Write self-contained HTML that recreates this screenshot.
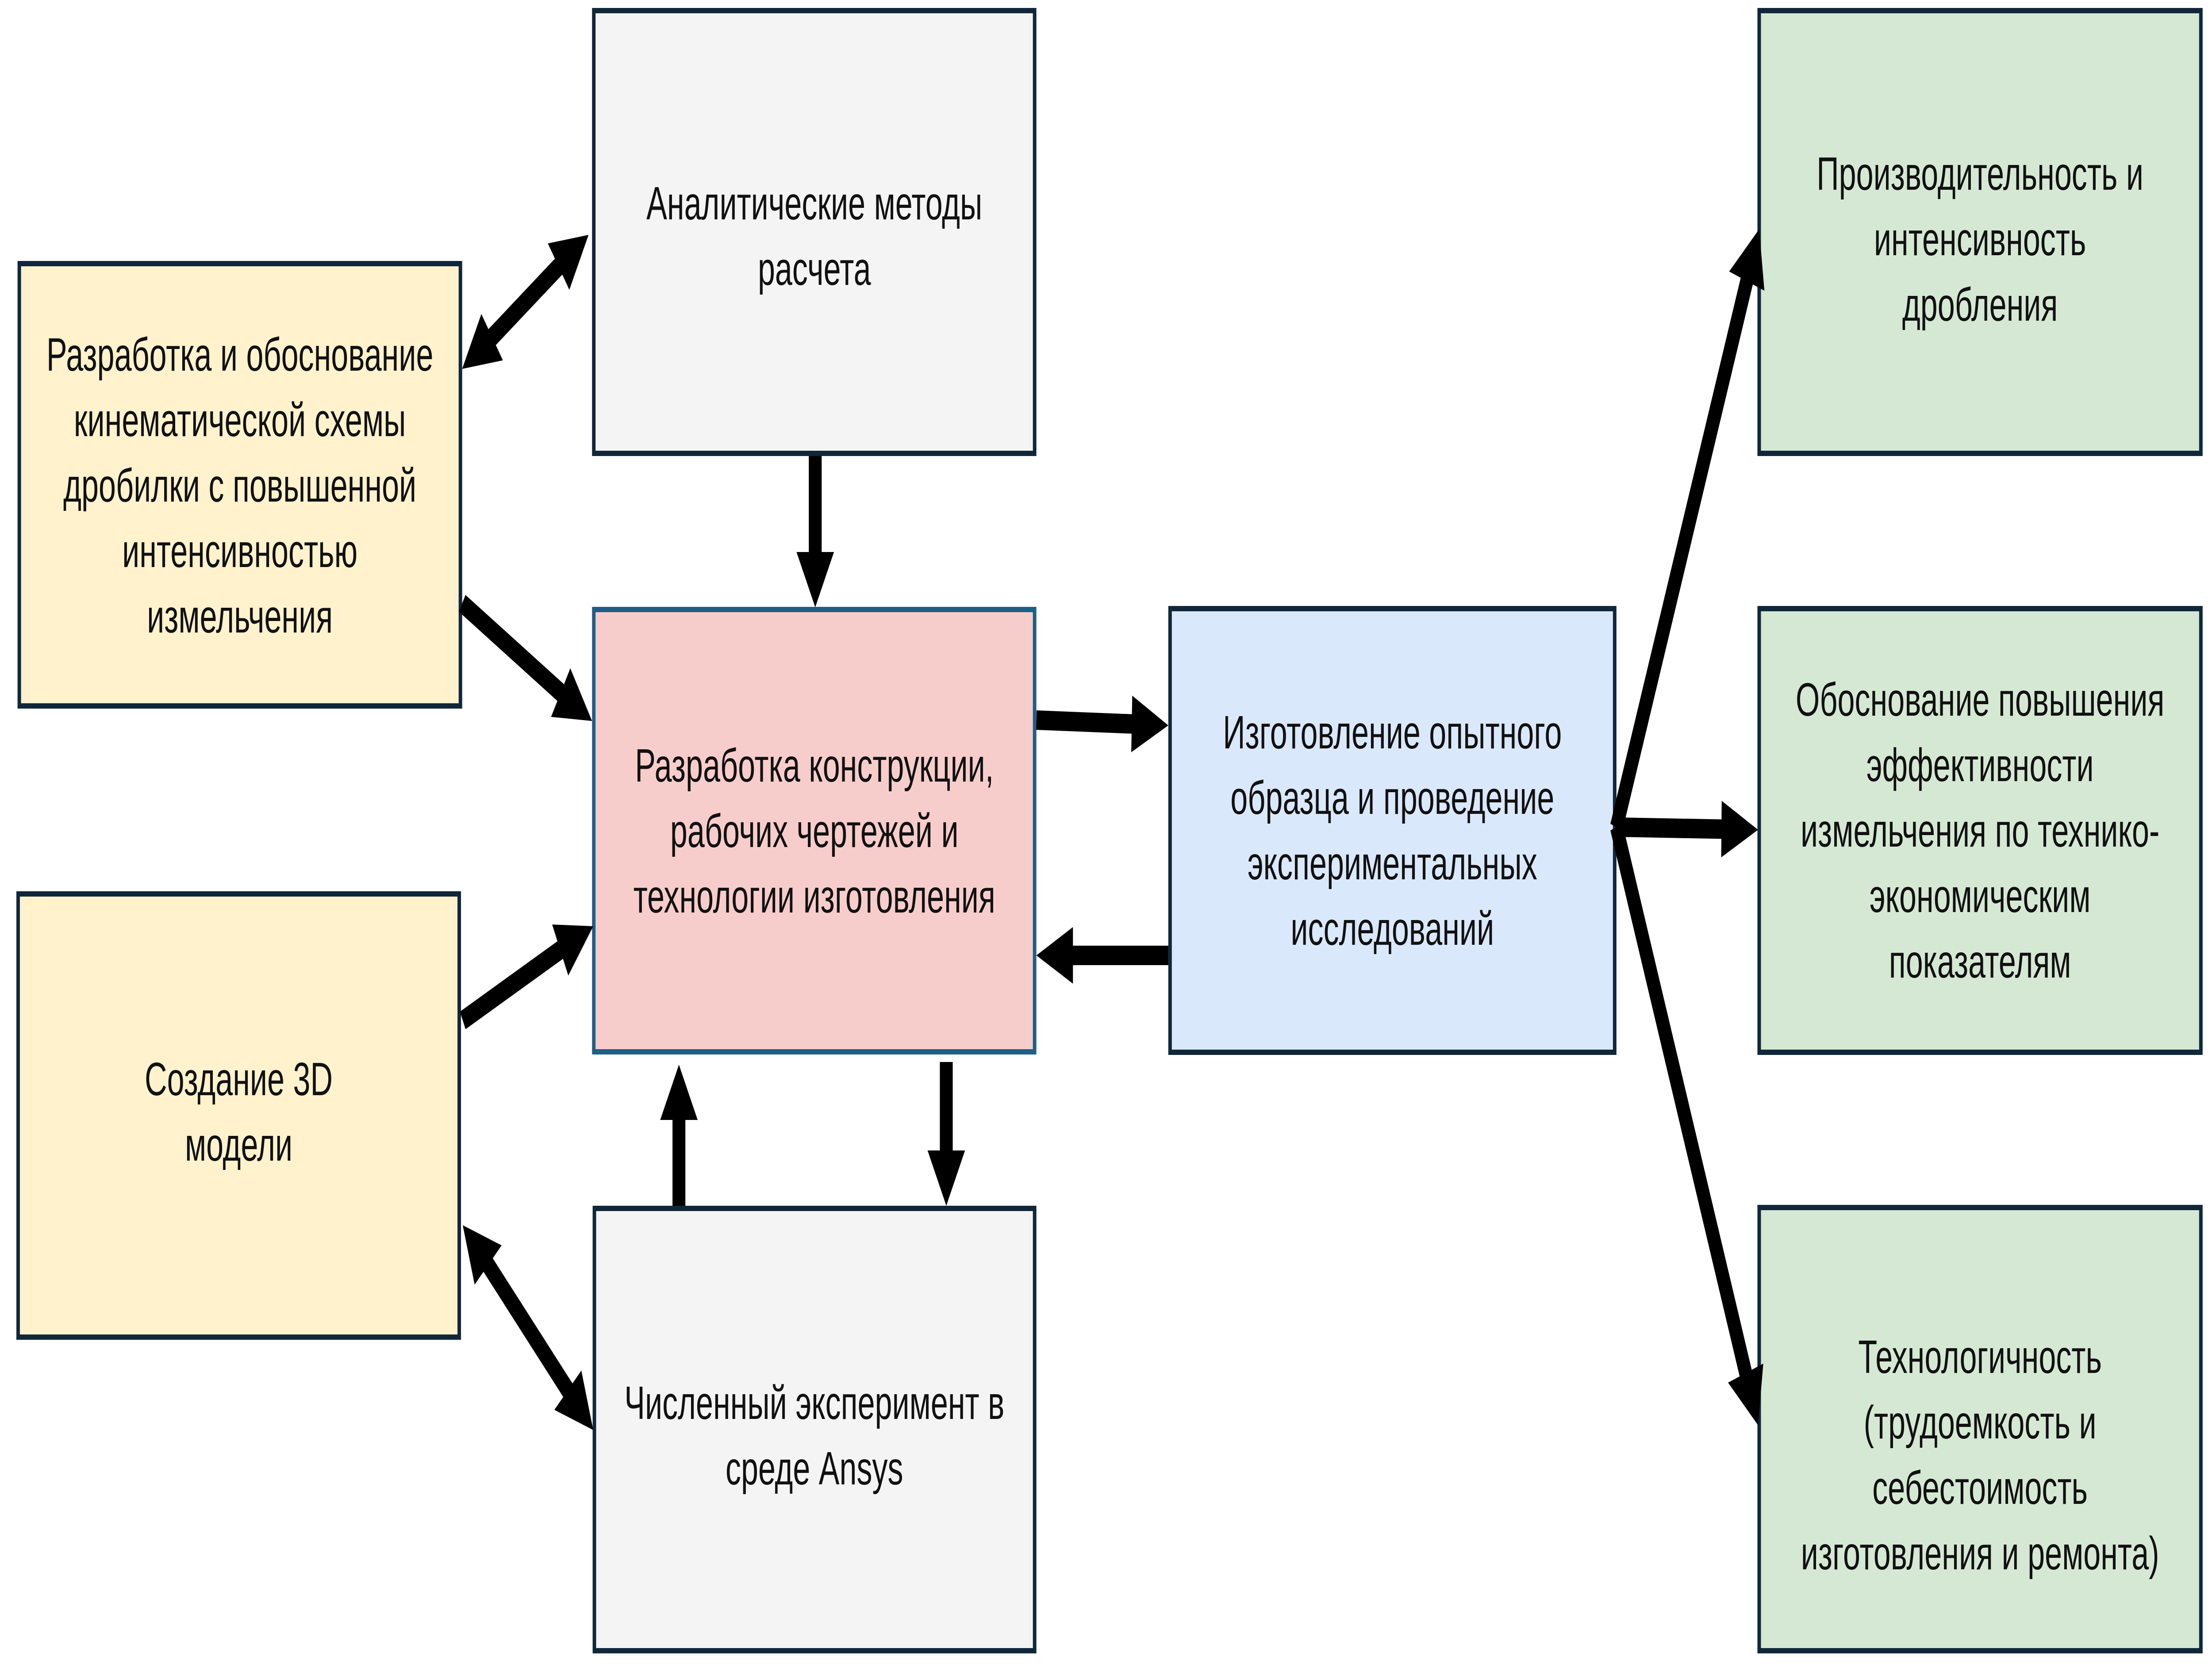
<!DOCTYPE html>
<html><head><meta charset="utf-8">
<style>
html,body{margin:0;padding:0;background:#fff;width:100%;height:100%;overflow:hidden;}
svg{display:block;width:100vw;height:100vh;}
text{font-family:"Liberation Sans","DejaVu Sans",sans-serif;font-size:106px;fill:#111;text-anchor:middle;}
</style></head><body>
<svg id="s" viewBox="0 0 7562 3762" preserveAspectRatio="none" xmlns="http://www.w3.org/2000/svg">
<g stroke="#10273a" stroke-width="12">
<rect x="66" y="596" width="1508" height="1000" fill="#fff2cc"/>
<rect x="62" y="2021" width="1508" height="1002" fill="#fff2cc"/>
<rect x="2030" y="24" width="1507" height="1001" fill="#f4f4f4"/>
<rect x="2030" y="1378" width="1507" height="1000" fill="#f7cdcb" stroke="#1f5f86"/>
<rect x="2032" y="2732" width="1505" height="1000" fill="#f4f4f4"/>
<rect x="4000" y="1376" width="1520" height="1003" fill="#dae8fc"/>
<rect x="6014" y="24" width="1510" height="1001" fill="#d5e8d4"/>
<rect x="6014" y="1376" width="1510" height="1003" fill="#d5e8d4"/>
<rect x="6014" y="2730" width="1510" height="1002" fill="#d5e8d4"/>
</g>
<text x="820" y="838">Разработка и обоснование</text>
<text x="820" y="986">кинематической схемы</text>
<text x="820" y="1134">дробилки с повышенной</text>
<text x="820" y="1282">интенсивностью</text>
<text x="820" y="1430">измельчения</text>

<text x="816" y="2476">Создание 3D</text>
<text x="816" y="2624">модели</text>

<text x="2784" y="496">Аналитические методы</text>
<text x="2784" y="644">расчета</text>

<text x="2784" y="1767">Разработка конструкции,</text>
<text x="2784" y="1915">рабочих чертежей и</text>
<text x="2784" y="2063">технологии изготовления</text>

<text x="2784" y="3208">Численный эксперимент в</text>
<text x="2784" y="3356">среде Ansys</text>

<text x="4760" y="1692">Изготовление опытного</text>
<text x="4760" y="1840">образца и проведение</text>
<text x="4760" y="1988">экспериментальных</text>
<text x="4760" y="2136">исследований</text>

<text x="6769" y="429">Производительность и</text>
<text x="6769" y="577">интенсивность</text>
<text x="6769" y="725">дробления</text>

<text x="6769" y="1618">Обоснование повышения</text>
<text x="6769" y="1766">эффективности</text>
<text x="6769" y="1914">измельчения по технико-</text>
<text x="6769" y="2062">экономическим</text>
<text x="6769" y="2210">показателям</text>

<text x="6769" y="3104">Технологичность</text>
<text x="6769" y="3252">(трудоемкость и</text>
<text x="6769" y="3400">себестоимость</text>
<text x="6769" y="3548">изготовления и ремонта)</text>
<g id="arr"></g>
</svg>
<script>
var A=[[1580,834,2012,531,1],[2787,1031,2787,1373,0],[1580,1364,2024,1630,0],[1582,2307,2028,2094,0],[2321,2726,2321,2407,0],[3235,2401,3235,2726,0],[1582,2770,2028,3233,1],[3543,1628,3994,1640,0],[3994,2160,3543,2160,0],[5526,1870,6014,518,0],[5526,1870,6010,1876,0],[5526,1870,6010,3222,0]];
var H=125,W=64,S=22,out="";
function pt(x,y){return x.toFixed(1)+","+y.toFixed(1)+" ";}
A.forEach(function(a){
 var x1=a[0],y1=a[1],x2=a[2],y2=a[3],d=a[4];
 var dx=x2-x1,dy=y2-y1,L=Math.hypot(dx,dy),ux=dx/L,uy=dy/L,nx=-uy,ny=ux;
 var sx=d?x1+ux*H*0.9:x1,sy=d?y1+uy*H*0.9:y1,ex=x2-ux*H*0.9,ey=y2-uy*H*0.9;
 out+='<polygon fill="#000" points="'+pt(sx+nx*S,sy+ny*S)+pt(ex+nx*S,ey+ny*S)+pt(ex-nx*S,ey-ny*S)+pt(sx-nx*S,sy-ny*S)+'"/>';
 var bx=x2-ux*H,by=y2-uy*H;
 out+='<polygon fill="#000" points="'+pt(x2,y2)+pt(bx+nx*W,by+ny*W)+pt(bx-nx*W,by-ny*W)+'"/>';
 if(d){bx=x1+ux*H;by=y1+uy*H;out+='<polygon fill="#000" points="'+pt(x1,y1)+pt(bx+nx*W,by+ny*W)+pt(bx-nx*W,by-ny*W)+'"/>';}
});
document.getElementById("arr").innerHTML=out;
</script>
</body></html>
